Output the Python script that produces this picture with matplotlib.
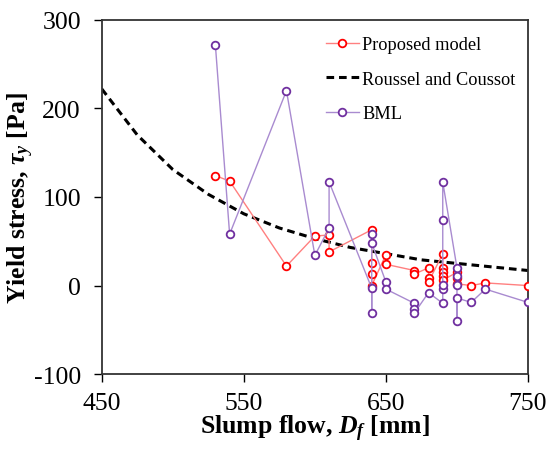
import numpy as np
import matplotlib
matplotlib.use('Agg')
from matplotlib import pyplot as plt

plt.rcParams['font.family'] = ['Liberation Serif', 'DejaVu Serif']
plt.rcParams['mathtext.fontset'] = 'custom'
plt.rcParams['mathtext.rm'] = 'Liberation Serif:bold'
plt.rcParams['mathtext.it'] = 'Liberation Serif:italic:bold'
plt.rcParams['mathtext.bf'] = 'Liberation Serif:bold'
plt.rcParams['axes.unicode_minus'] = False

# Proposed model
prop_x = [530, 540, 580, 600, 610, 610, 640, 640, 640, 640, 650, 650, 670, 670,
          680, 680, 680, 690, 690, 690, 690, 690, 700, 700, 700, 710, 720, 750]
prop_y = [124, 118, 22, 56, 57, 38, 63, 26, 13, 0, 35, 24, 17, 13,
          20, 8, 4, 36, 20, 15, 11, 6, 15, 8, 2, 0, 3, 0]

# BML
bml_x = [530, 540, 580, 600, 610, 610, 640, 640, 640, 640, 650, 650, 670, 670, 670,
         680, 690, 690, 690, 690, 690, 700, 700, 700, 700, 700, 710, 720, 750]
bml_y = [271, 58, 220, 34, 65, 117, -3, -31, 58, 48, 4, -4, -20, -26, -31,
         -8, -20, -4, 1, 74, 117, 20, 11, 1, -40, -14, -19, -4, -19]

# Roussel and Coussot curve
rc_x = [450, 475, 500, 525, 550, 575, 600, 625, 650, 675, 700, 725, 750]
rc_y = [222, 170, 131, 103, 81, 65, 53, 43, 36, 29, 25, 21, 17]

fig = plt.figure(figsize=(5.5, 4.52), dpi=100)
ax = fig.add_axes([0.185, 0.17, 0.775, 0.784])

ax.plot(prop_x, prop_y, color='#ff8080', lw=1.0, marker='o', ms=5.5,
        mfc='white', mec='#ff0000', mew=1.3, label='Proposed model', zorder=3)
ax.plot(rc_x, rc_y, color='black', lw=2.2, ls=(0, (2.5, 1.6)),
        label='Roussel and Coussot', zorder=2)
ax.plot(bml_x, bml_y, color='#a98bd0', lw=1.0, marker='o', ms=5.5,
        mfc='white', mec='#7030a0', mew=1.3, label='BML', zorder=3)

ax.set_xlim(450, 750)
ax.set_ylim(-100, 300)
ax.set_xticks([450, 550, 650, 750])
ax.set_yticks([-100, 0, 100, 200, 300])
ax.tick_params(axis='y', direction='out', length=6, width=1.0, labelsize=18.5, pad=9)
ax.tick_params(axis='x', direction='out', length=6, width=1.0, labelsize=18.5, pad=7)
for s in ax.spines.values():
    s.set_linewidth(1.3)
    s.set_color('#333333')

ax.set_xlabel(r'Slump flow, $D_f$ [mm]', fontsize=18.5, fontweight='bold', labelpad=-1)
ax.set_ylabel(r'Yield stress, $\tau_y$ [Pa]', fontsize=18.5, fontweight='bold', labelpad=-2)

ax.legend(loc='upper right', frameon=False, fontsize=13.2, handlelength=1.8,
          labelspacing=0.95, handletextpad=0.2, borderaxespad=0.5,
          bbox_to_anchor=(1.01, 1.0))

fig.savefig('out.png', dpi=100)
